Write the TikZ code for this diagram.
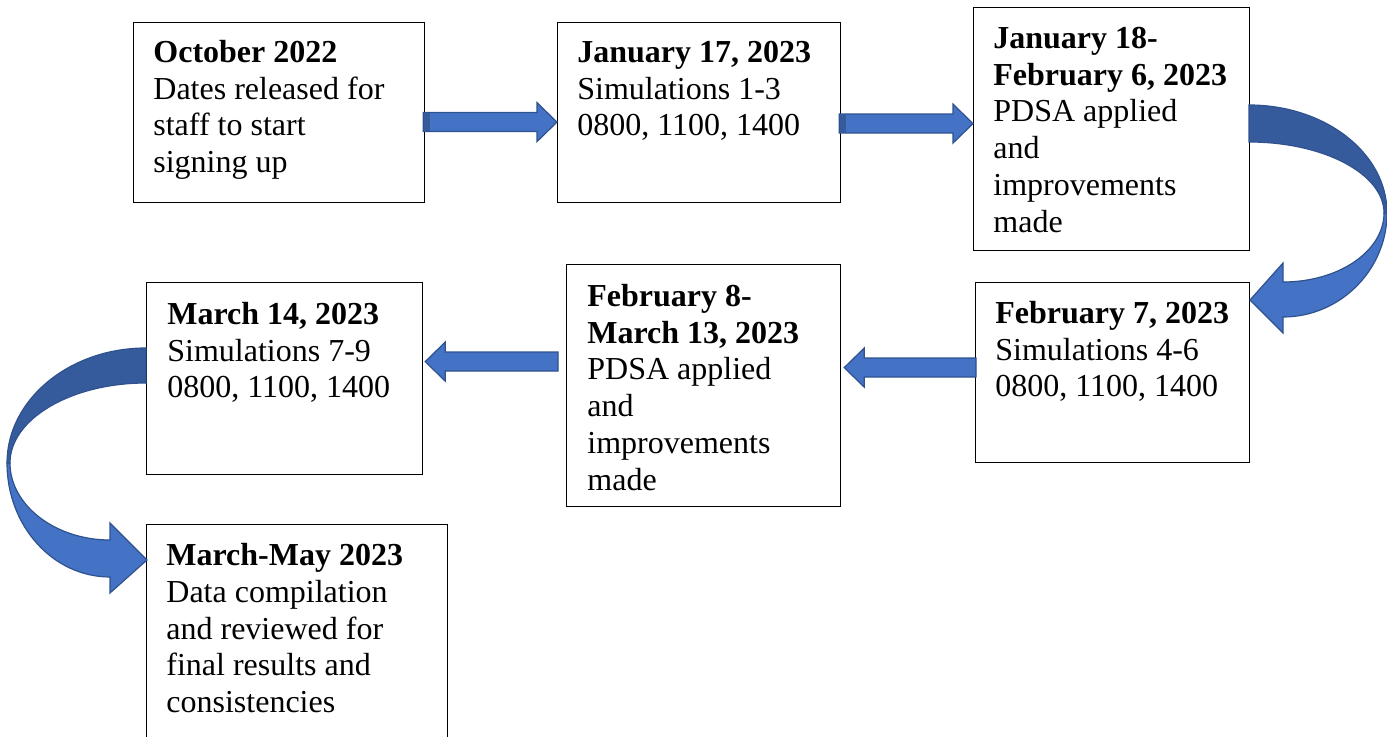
\documentclass[tikz,border=0pt]{standalone}
\usepackage{fontspec}
\setmainfont{Liberation Serif}
\usetikzlibrary{calc}
\definecolor{arrowfill}{HTML}{4472C4}
\definecolor{arrowdark}{HTML}{365B9D}
\definecolor{arrowline}{HTML}{2F528F}
\newcommand\topline{\rule{0pt}{12pt}}
\newcommand\blockarrow[2]{%
\path[blk] let \p1=(#1), \p2=(#2), \n1={ifthenelse(\x2>\x1,1,-1)} in
  (\x1,\y1+4.75pt)--(\x2-\n1*10pt,\y1+4.75pt)--(\x2-\n1*10pt,\y1+9.75pt)--(\x2,\y1)
  --(\x2-\n1*10pt,\y1-9.75pt)--(\x2-\n1*10pt,\y1-4.75pt)--(\x1,\y1-4.75pt)--cycle;}

\begin{document}
\begin{tikzpicture}[x=0.5pt,y=-0.5pt,
  box/.style={draw, line width=0.6pt, anchor=north west, inner sep=0pt},
  txt/.style={anchor=north west, align=left, inner sep=0pt, font=\fontsize{16}{18.4}\selectfont},
  blk/.style={fill=arrowfill, draw=arrowline, line width=0.6pt, line join=miter}]
\useasboundingbox (0,0) rectangle (1387,737);

\foreach \n/\x/\y/\w/\h in {1/133/22/291/180, 2/557/22/283/180, 3/973/7/276/243,
  4/975/282/274/180, 5/566/264/274/242, 6/146/282/276/192, 7/146/524/301/230}{
\node[box, minimum width=0.5pt*\w, minimum height=0.5pt*\h] (b\n) at (\x,\y) {};
}

\node[txt] (t1) at ($(b1.north west)+(20,16)$) {\topline\textbf{October 2022}\\Dates released for\\staff to start\\signing up};
\node[txt] (t2) at ($(b2.north west)+(20,16)$) {\topline\textbf{January 17, 2023}\\Simulations 1-3\\0800, 1100, 1400};
\node[txt] (t3) at ($(b3.north west)+(20,17)$) {\topline\textbf{January 18-}\\\textbf{February 6, 2023}\\PDSA applied\\and\\improvements\\made};
\node[txt] (t4) at ($(b4.north west)+(20,17)$) {\topline\textbf{February 7, 2023}\\Simulations 4-6\\0800, 1100, 1400};
\node[txt] (t5) at ($(b5.north west)+(21,18)$) {\topline\textbf{February 8-}\\\textbf{March 13, 2023}\\PDSA applied\\and\\improvements\\made};
\node[txt] (t6) at ($(b6.north west)+(21,18)$) {\topline\textbf{March 14, 2023}\\Simulations 7-9\\0800, 1100, 1400};
\node[txt] (t7) at ($(b7.north west)+(20,17)$) {\topline\textbf{March-May 2023}\\Data compilation\\and reviewed for\\final results and\\consistencies};

\coordinate (a1s) at ($(b1.east)+(-2,9.5)$);
\coordinate (a1e) at (b2.west |- a1s);
\coordinate (a2s) at ($(b2.east)+(-2,11)$);
\coordinate (a2e) at (b3.west |- a2s);
\coordinate (a4s) at ($(b4.west)+(1,-5)$);
\coordinate (a4e) at ($(b5.east |- a4s)+(3,0)$);
\coordinate (a3s) at ($(b5.west)+(-8,-24)$);
\coordinate (a3e) at ($(b6.east |- a3s)+(2,0)$);

\blockarrow{a1s}{a1e}
\blockarrow{a2s}{a2e}
\blockarrow{a4s}{a4e}
\blockarrow{a3s}{a3e}
\fill[arrowdark] ($(a1s)+(0.6,-8.9)$) rectangle ($(a1s)+(7,8.9)$);
\fill[arrowdark] ($(a2s)+(0.6,-8.9)$) rectangle ($(a2s)+(7,8.9)$);

\path[blk] (1387,213) .. controls (1387,270) and (1340,317) .. (1283,317)
  -- (1283,333) -- (1250,300) -- (1283,263) -- (1283,282)
  .. controls (1339,282) and (1384,251) .. (1384,213) -- cycle;
\path[blk, fill=arrowdark] (1249,105) .. controls (1325,105) and (1387,153) .. (1387,213)
  -- (1384,213) .. controls (1384,174) and (1324,142) .. (1249,142) -- cycle;

\path[blk] (7,463) .. controls (7,526) and (53,577) .. (110,577)
  -- (110,593) -- (147,560) -- (110,523) -- (110,540)
  .. controls (55,540) and (10,505) .. (10,463) -- cycle;
\path[blk, fill=arrowdark] (146,348) .. controls (69,348) and (7,400) .. (7,463)
  -- (10,463) .. controls (10,419) and (71,383) .. (146,383) -- cycle;
\end{tikzpicture}
\end{document}
